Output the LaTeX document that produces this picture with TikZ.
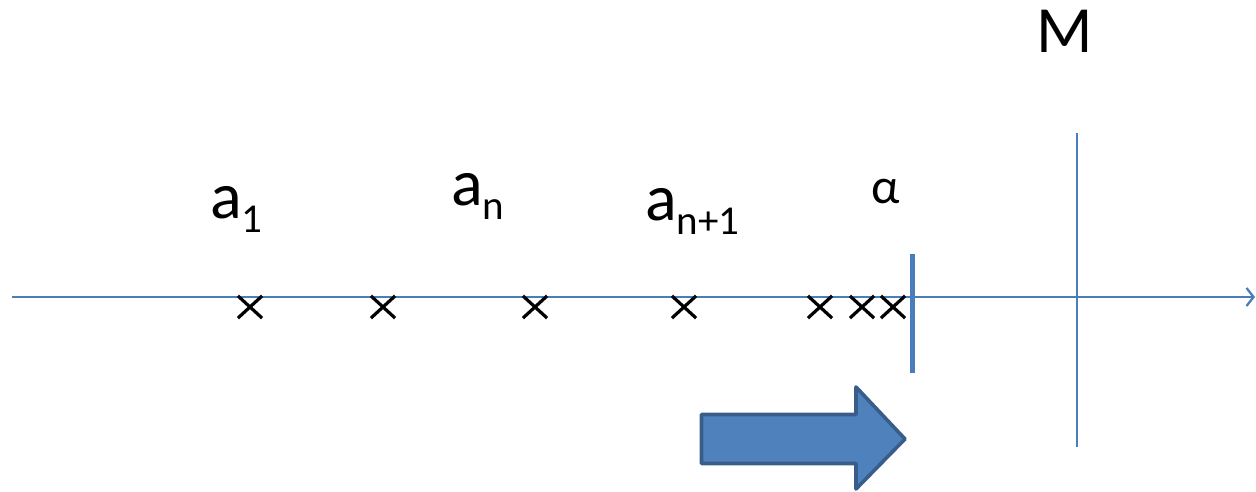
\documentclass[tikz,border=0pt]{standalone}
\usepackage{fontspec}
\setmainfont{Carlito}
\usetikzlibrary{arrows.meta,shapes.misc}
\definecolor{lineblue}{HTML}{4A7EBB}
\definecolor{fillblue}{HTML}{4F81BD}
\definecolor{edgeblue}{HTML}{385D8A}
\newcommand{\bigtxt}{\fontsize{66}{70}\selectfont}
\newcommand{\subtxt}[1]{\raisebox{-14pt}{\fontsize{41}{44}\selectfont #1}}
\begin{document}
\begin{tikzpicture}[x=1pt,y=-1pt,
  axisline/.style={draw=lineblue,line width=2.3pt},
  cross/.style={cross out,draw=black,line width=3.2pt,inner sep=0pt,minimum width=21pt,minimum height=19pt},
  lbl/.style={inner sep=0pt,anchor=base west,font=\bigtxt},
  blockarrow/.style={fill=fillblue,draw=edgeblue,line width=3.6pt,line join=round}]
\useasboundingbox (0,0) rectangle (1256,492);
% axis
\coordinate (axstart) at (12,297);
\coordinate (axend) at (1255,297);
\draw[axisline,-{Straight Barb[length=7pt,width=18pt,line width=2.3pt]}] (axstart) -- (axend);
% crosses
\node[cross] (x1) at (250,307) {};
\node[cross] (x2) at (383,307) {};
\node[cross] (x3) at (535,307) {};
\node[cross] (x4) at (684,307) {};
\node[cross] (x5) at (820,307) {};
\node[cross] (x6) at (862,307) {};
\node[cross] (x7) at (893,307) {};
% vertical bars
\coordinate (alphatop) at (912,254);
\coordinate (alphabot) at (912,373);
\draw[draw=lineblue,line width=5pt] (alphatop) -- (alphabot);
\coordinate (mtop) at (1077,133);
\coordinate (mbot) at (1077,447);
\draw[draw=lineblue,line width=2.5pt] (mtop) -- (mbot);
% labels
\node[lbl] (a1) at (210,218) {a\subtxt{1}};
\node[lbl] (an) at (451,205) {a\subtxt{n}};
\node[lbl] (an1) at (645,220) {a\subtxt{n+1}};
\node[lbl,font=\fontsize{50}{54}\selectfont] (alpha) at (871,204) {α};
\node[lbl] (M) at (1036,53) {M};
% block arrow
\draw[blockarrow] (701.5,414.5) -- (856,414.5) -- (856,387) -- (905,439) -- (856,489) -- (856,463.5) -- (701.5,463.5) -- cycle;
\end{tikzpicture}
\end{document}
